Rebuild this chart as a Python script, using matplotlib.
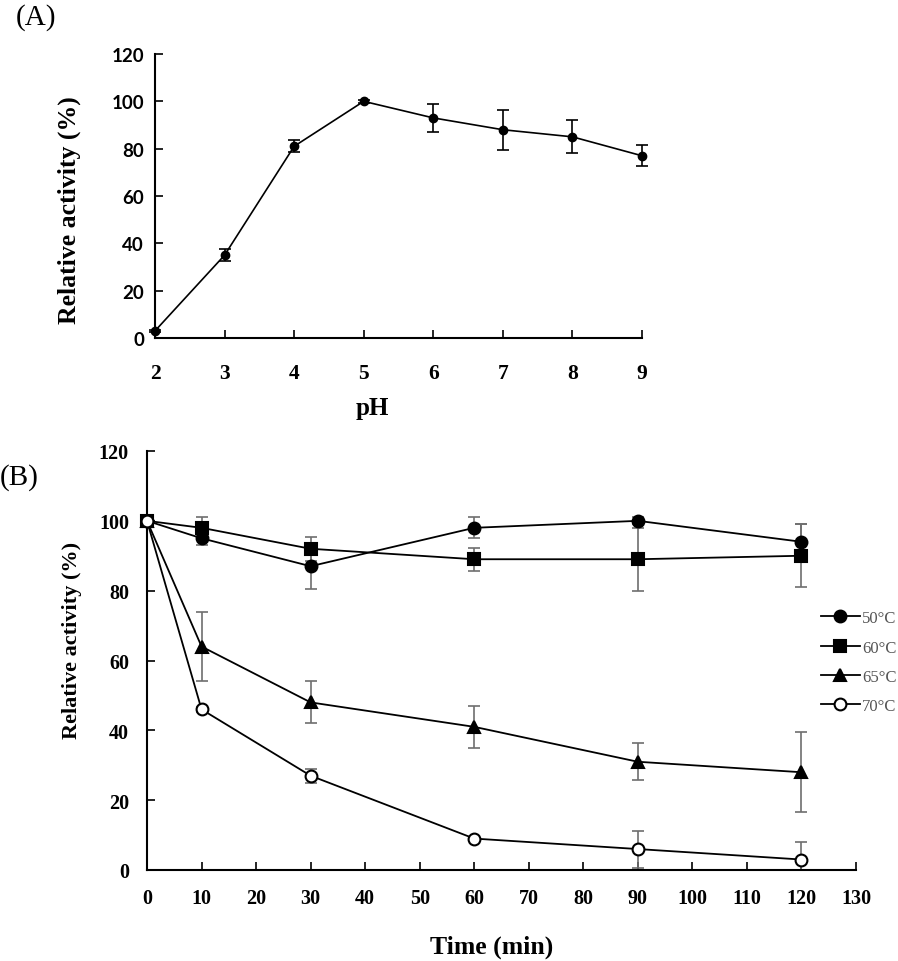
import matplotlib
matplotlib.use("Agg")
import matplotlib.pyplot as plt
import numpy as np

SERIF = ["Liberation Serif", "DejaVu Serif"]
SANS = ["Lato", "DejaVu Sans"]

# (A) pH profile
PH = [2, 3, 4, 5, 6, 7, 8, 9]
PH_ACT = [3, 35, 81, 100, 93, 88, 85, 77]
PH_ERR = [0.5, 2.5, 2.5, 0.5, 6, 8.5, 7, 4.5]

# (B) thermal stability
TIME = [0, 10, 30, 60, 90, 120]
TEMPS = ["50°C", "60°C", "65°C", "70°C"]
ACT_50 = [100, 95, 87, 98, 100, 94]
ERR_50 = [0.5, 2, 6.5, 3, 1, 5]
ACT_60 = [100, 98, 92, 89, 89, 90]
ERR_60 = [0.5, 3, 3.5, 3.3, 9, 9]
ACT_65 = [100, 64, 48, 41, 31, 28]
ERR_65 = [0.5, 10, 6, 6, 5.3, 11.5]
ACT_70 = [100, 46, 27, 9, 6, 3]
ERR_70 = [0.5, 0.8, 2, 0.5, 5.3, 5]

W, H = 898, 962
fig = plt.figure(figsize=(W / 100, H / 100), dpi=100)


def fx(px):
    return px / W


def fy(py):
    return 1 - py / H


# ---------- panel A ----------
axA = fig.add_axes([fx(155), fy(339), fx(642 - 155), (339 - 55) / H])
axA.errorbar(PH, PH_ACT, yerr=PH_ERR, color="black", marker="o", markersize=6,
             linewidth=1.2, elinewidth=1.2, capsize=4, capthick=1.2, clip_on=False)
axA.set_xlim(2, 9)
axA.set_ylim(0, 120)
axA.set_xticks(PH)
axA.set_yticks(np.arange(0, 121, 20))
for s in ["top", "right"]:
    axA.spines[s].set_visible(False)
for s in ["left", "bottom"]:
    axA.spines[s].set_linewidth(1.5)
axA.tick_params(axis="y", direction="in", length=6, width=1.2, pad=8)
axA.tick_params(axis="x", direction="in", length=6, width=1.2, pad=18)
for lab in axA.get_yticklabels():
    lab.set_family(SANS)
    lab.set_fontweight("bold")
    lab.set_fontsize(13.5)
for lab in axA.get_xticklabels():
    lab.set_family(SERIF)
    lab.set_fontweight("bold")
    lab.set_fontsize(15.5)

fig.text(fx(69), fy(210), "Relative activity (%)", rotation=90, ha="center", va="center",
         family=SERIF, fontweight="bold", fontsize=18.5)
fig.text(fx(372), fy(409), "pH", ha="center", va="center",
         family=SERIF, fontweight="bold", fontsize=18)
fig.text(fx(16), fy(18), "(A)", ha="left", va="center", family=SERIF, fontsize=21)

# ---------- panel B ----------
axB = fig.add_axes([fx(147), fy(871), fx(856 - 147), (871 - 452) / H])
series = [
    (ACT_50, ERR_50, "o", "black"),
    (ACT_60, ERR_60, "s", "black"),
    (ACT_65, ERR_65, "^", "black"),
    (ACT_70, ERR_70, "o", "white"),
]
for (act, err, mk, fc), lab in zip(series, TEMPS):
    axB.errorbar(TIME, act, yerr=err, fmt="none", ecolor="#6e6e6e",
                 elinewidth=1.2, capsize=4, capthick=1.2)
    axB.plot(TIME, act, color="black", marker=mk, markersize=8.5,
             markerfacecolor=fc, markeredgecolor="black", markeredgewidth=1.5,
             linewidth=1.3, label=lab, clip_on=False, zorder=3)
axB.set_xlim(0, 130)
axB.set_ylim(0, 120)
axB.set_xticks(np.arange(0, 131, 10))
axB.set_yticks(np.arange(0, 121, 20))
for s in ["top", "right"]:
    axB.spines[s].set_visible(False)
for s in ["left", "bottom"]:
    axB.spines[s].set_linewidth(1.5)
axB.tick_params(axis="both", direction="in", length=6, width=1.2)
axB.tick_params(axis="x", pad=13)
axB.tick_params(axis="y", pad=13)
for lab in axB.get_xticklabels() + axB.get_yticklabels():
    lab.set_family(SERIF)
    lab.set_fontweight("bold")
    lab.set_fontsize(14.5)

leg = axB.legend(loc="upper left", bbox_to_anchor=(0.951, 0.62), frameon=False,
                 borderpad=0, borderaxespad=0, handlelength=2.3, handletextpad=0.15,
                 labelspacing=0.8, prop={"family": SERIF, "size": 12})
for t in leg.get_texts():
    t.set_color("#555555")

fig.text(fx(72), fy(640), "Relative activity (%)", rotation=90, ha="center", va="center",
         family=SERIF, fontweight="bold", fontsize=16)
fig.text(fx(492), fy(947), "Time (min)", ha="center", va="center",
         family=SERIF, fontweight="bold", fontsize=18.5)
fig.text(fx(0), fy(478), "(B)", ha="left", va="center", family=SERIF, fontsize=21)

fig.savefig("out.png", dpi=100)
